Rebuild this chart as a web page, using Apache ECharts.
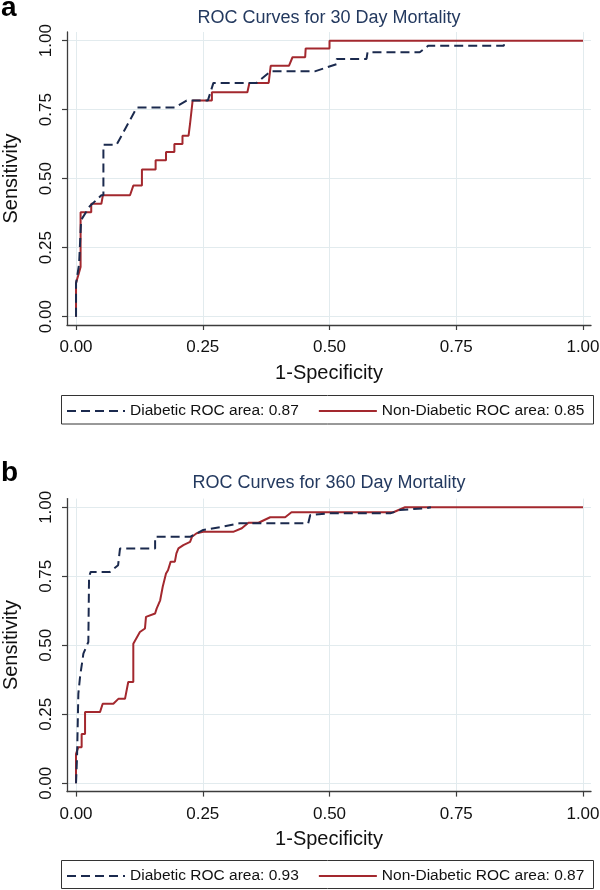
<!DOCTYPE html>
<html>
<head>
<meta charset="utf-8">
<script src="https://cdn.jsdelivr.net/npm/echarts@6/dist/echarts.min.js"></script>
<style>
html,body{margin:0;padding:0;background:#fff;}
#chart{width:600px;height:890px;}
</style>
</head>
<body>
<div id="chart"></div>
<script>
// ---- data ----
const panelLabels = ['a', 'b'];
const titles = ['ROC Curves for 30 Day Mortality', 'ROC Curves for 360 Day Mortality'];
const xTicks = [0, 0.25, 0.5, 0.75, 1];
const yTicks = [0, 0.25, 0.5, 0.75, 1];
const xName = '1-Specificity';
const yName = 'Sensitivity';
const names30 = ['Diabetic ROC area: 0.87', 'Non-Diabetic ROC area: 0.85'];
const names360 = ['Diabetic ROC area: 0.93', 'Non-Diabetic ROC area: 0.87'];

const diab30 = [[0,0],[0,0.12],[0.006,0.19],[0.01,0.35],[0.027,0.40],[0.05,0.44],[0.054,0.44],[0.054,0.623],[0.08,0.623],
  [0.12,0.758],[0.195,0.758],[0.218,0.783],[0.26,0.783],[0.271,0.847],[0.356,0.847],[0.384,0.889],[0.471,0.889],
  [0.514,0.915],[0.514,0.934],[0.573,0.934],[0.575,0.958],[0.678,0.958],[0.695,0.982],[0.844,0.982],[0.844,0.991]];
const nondiab30 = [[0,0],[0,0.122],[0.006,0.16],[0.009,0.18],[0.009,0.378],[0.030,0.378],[0.030,0.409],[0.05,0.409],
  [0.053,0.44],[0.1065,0.44],[0.113,0.475],[0.13,0.475],[0.13,0.533],[0.157,0.533],[0.157,0.567],[0.1775,0.567],
  [0.1775,0.597],[0.194,0.597],[0.194,0.626],[0.21,0.626],[0.21,0.656],[0.222,0.656],[0.225,0.70],[0.23,0.783],
  [0.268,0.783],[0.268,0.813],[0.338,0.813],[0.342,0.847],[0.38,0.847],[0.384,0.909],[0.42,0.909],[0.427,0.94],
  [0.452,0.94],[0.453,0.972],[0.5,0.972],[0.5,1.0],[1.0,1.0]];
const diab360 = [[0,0],[0.002,0.094],[0.0046,0.325],[0.0079,0.385],[0.0145,0.47],[0.0243,0.512],[0.0257,0.748],
  [0.0289,0.766],[0.067,0.766],[0.083,0.79],[0.0868,0.79],[0.0868,0.851],[0.156,0.851],[0.156,0.893],[0.225,0.893],
  [0.251,0.918],[0.29,0.93],[0.323,0.942],[0.458,0.942],[0.462,0.972],[0.5,0.978],[0.62,0.978],[0.639,0.99],
  [0.692,0.997],[0.70,1.0]];
const nondiab360 = [[0,0],[0,0.107],[0.0046,0.131],[0.0111,0.131],[0.0111,0.179],[0.0178,0.179],[0.0178,0.258],
  [0.0473,0.258],[0.0526,0.288],[0.0736,0.288],[0.0835,0.306],[0.0966,0.306],[0.103,0.367],[0.113,0.367],
  [0.113,0.506],[0.126,0.548],[0.136,0.561],[0.138,0.603],[0.156,0.615],[0.159,0.633],[0.166,0.663],[0.171,0.712],
  [0.1775,0.760],[0.1814,0.772],[0.1867,0.803],[0.195,0.803],[0.198,0.833],[0.202,0.851],[0.2117,0.863],
  [0.225,0.875],[0.2287,0.893],[0.238,0.906],[0.251,0.911],[0.310,0.911],[0.327,0.924],[0.34,0.944],[0.36,0.944],
  [0.383,0.964],[0.4125,0.964],[0.425,0.982],[0.626,0.982],[0.649,1.0],[1.0,1.0]];

// ---- styles ----
const FONT = "'Liberation Sans', Arial, sans-serif";
const NAVY = '#1b2a4e';
const RED = '#a3282e';
const AXIS = '#3c3c3c';
const GRIDC = '#e2ebee';
const panelTop = [32, 498.6];

const chart = echarts.init(document.getElementById('chart'), null, {renderer: 'canvas'});

function xAxisCfg(i) {
  return {
    type: 'value', gridIndex: i, min: -0.0178, max: 1.0158,
    axisLine: {show: true, onZero: false, lineStyle: {color: AXIS, width: 1.3}},
    axisTick: {show: true, length: 5, customValues: xTicks, lineStyle: {color: AXIS, width: 1.2}},
    axisLabel: {customValues: xTicks, formatter: v => v.toFixed(2), fontSize: 17, color: '#111', fontFamily: FONT, margin: 14},
    splitLine: {show: true, lineStyle: {color: GRIDC, width: 1}},
    name: xName, nameLocation: 'middle', nameGap: 38,
    nameTextStyle: {fontSize: 20, color: '#111', fontFamily: FONT}
  };
}
function yAxisCfg(i) {
  return {
    type: 'value', gridIndex: i, min: -0.0301, max: 1.0315,
    axisLine: {show: true, onZero: false, lineStyle: {color: AXIS, width: 1.3}},
    axisTick: {show: true, length: 5, customValues: yTicks, lineStyle: {color: AXIS, width: 1.2}},
    axisLabel: {customValues: yTicks, formatter: v => v.toFixed(2), fontSize: 17, color: '#111', fontFamily: FONT, margin: 12, rotate: 90},
    splitLine: {show: true, lineStyle: {color: GRIDC, width: 1}},
    name: yName, nameLocation: 'middle', nameGap: 46,
    nameTextStyle: {fontSize: 20, color: '#111', fontFamily: FONT}
  };
}
function lineSeries(name, data, i, dashed) {
  return {
    type: 'line', name: name, data: data, xAxisIndex: i, yAxisIndex: i,
    symbol: 'none', showSymbol: false, animation: false, silent: true,
    lineStyle: {color: dashed ? NAVY : RED, width: 2, type: dashed ? [9, 5] : 'solid'},
    itemStyle: {color: dashed ? NAVY : RED},
    z: dashed ? 3 : 2
  };
}
function legendCfg(names, top) {
  return {
    data: names, left: 66, top: top, orient: 'horizontal', padding: 0,
    itemWidth: 58, itemHeight: 14, itemGap: 19, selectedMode: false,
    itemStyle: {opacity: 0},
    textStyle: {fontSize: 15.5, color: '#111', fontFamily: FONT}
  };
}

const option = {
  backgroundColor: '#fff',
  animation: false,
  title: [
    {text: panelLabels[0], left: 1, top: -6, padding: 0, textStyle: {fontSize: 28, fontWeight: 'bold', color: '#000', fontFamily: FONT}},
    {text: titles[0], left: 329, textAlign: 'center', top: 9, padding: 0, textStyle: {fontSize: 18, fontWeight: 'normal', color: '#23395f', fontFamily: FONT}},
    {text: panelLabels[1], left: 1, top: 459, padding: 0, textStyle: {fontSize: 28, fontWeight: 'bold', color: '#000', fontFamily: FONT}},
    {text: titles[1], left: 329, textAlign: 'center', top: 474, padding: 0, textStyle: {fontSize: 18, fontWeight: 'normal', color: '#23395f', fontFamily: FONT}}
  ],
  grid: [
    {left: 67, width: 524, top: panelTop[0], height: 293, containLabel: false, outerBoundsMode: 'none'},
    {left: 67, width: 524, top: panelTop[1], height: 293, containLabel: false, outerBoundsMode: 'none'}
  ],
  xAxis: [xAxisCfg(0), xAxisCfg(1)],
  yAxis: [yAxisCfg(0), yAxisCfg(1)],
  legend: [legendCfg(names30, 403), legendCfg(names360, 868)],
  graphic: [
    {type: 'rect', shape: {x: 61.5, y: 395.5, width: 532, height: 28.5}, style: {fill: null, stroke: '#333', lineWidth: 1}, silent: true},
    {type: 'rect', shape: {x: 61.5, y: 860.5, width: 532, height: 28}, style: {fill: null, stroke: '#333', lineWidth: 1}, silent: true}
  ],
  series: [
    lineSeries(names30[0], diab30, 0, true),
    lineSeries(names30[1], nondiab30, 0, false),
    lineSeries(names360[0], diab360, 1, true),
    lineSeries(names360[1], nondiab360, 1, false)
  ]
};
chart.setOption(option);
</script>
</body>
</html>
